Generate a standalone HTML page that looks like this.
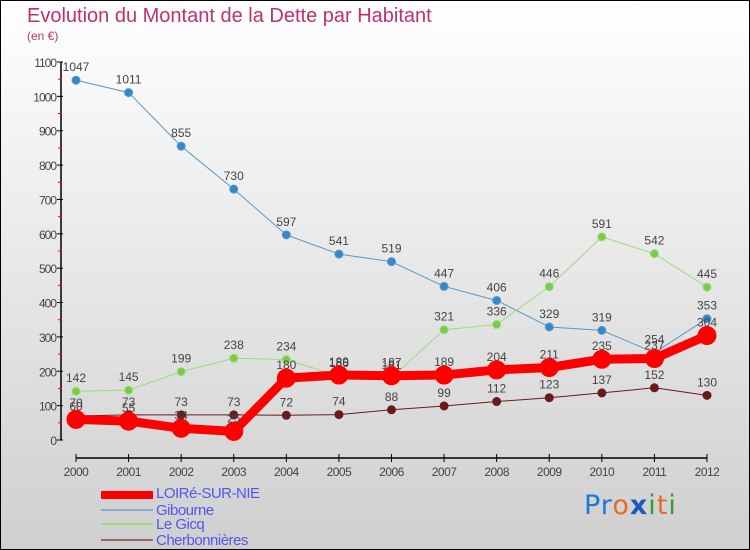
<!DOCTYPE html>
<html><head><meta charset="utf-8"><style>
body{margin:0;}
#wrap{position:relative;width:748px;height:548px;border:1px solid #000;background:linear-gradient(#ffffff,#cfcfcf);overflow:hidden;font-family:"Liberation Sans",sans-serif;}
.t{position:absolute;color:#c0306c;}
.lg{position:absolute;left:155px;color:#5555ee;font-size:15px;line-height:15px;letter-spacing:-0.5px}
.sw{position:absolute;left:100px;width:52px;}
</style></head><body>
<div id="wrap">
<div class="t" style="left:26px;top:4px;font-size:20px;">Evolution du Montant de la Dette par Habitant</div>
<div class="t" style="left:26px;top:28px;font-size:12px;">(en €)</div>
<svg id="svg" width="748" height="548" style="position:absolute;left:0;top:0"></svg>
<div class="sw" style="top:490px;height:8px;background:#f00"></div>
<div class="lg" style="top:485px">LOIRé-SUR-NIE</div>
<div class="sw" style="top:508px;height:2px;background:#88aacc"></div>
<div class="lg" style="top:502px">Gibourne</div>
<div class="sw" style="top:522px;height:2px;background:#99dd77"></div>
<div class="lg" style="top:516px">Le Gicq</div>
<div class="sw" style="top:538px;height:2px;background:#996666"></div>
<div class="lg" style="top:532px">Cherbonnières</div>
<div style="position:absolute;left:583px;top:489px;font-size:27px;font-family:'DejaVu Sans',sans-serif;letter-spacing:1px"><span style="color:#1a7ad0">Pr</span><span style="color:#e07020">o</span><span style="color:#1a5ac0;font-weight:bold">x</span><span style="color:#30a030">i</span><span style="color:#e07020">t</span><span style="color:#30a030">i</span></div>
</div>
<script>
const years=[2000,2001,2002,2003,2004,2005,2006,2007,2008,2009,2010,2011,2012];
const loire=[60,55,34,25,180,189,187,189,204,211,235,237,304];
const gibourne=[1047,1011,855,730,597,541,519,447,406,329,319,254,353];
const gicq=[142,145,199,238,234,186,181,321,336,446,591,542,445];
const cherb=[70,73,73,73,72,74,88,99,112,123,137,152,130];
const yTicks=[0,100,200,300,400,500,600,700,800,900,1000,1100];
const NS="http://www.w3.org/2000/svg";
const svg=document.getElementById('svg');
const x=i=>75+i*(706-75)/(years.length-1);
const y=v=>439-v*(378/1100);
function el(t,a,n){const e=document.createElementNS(NS,t);for(const k in a)e.setAttribute(k,a[k]);


svg.appendChild(e);return e;}
el('line',{x1:60,y1:y(1100),x2:60,y2:y(0),stroke:'#000','stroke-width':1.5},'y-axis');
yTicks.forEach(v=>{el('line',{x1:56,y1:y(v),x2:62,y2:y(v),stroke:'#000'},'y-tick');
const t=el('text',{x:55,y:y(v)+5,'text-anchor':'end','font-size':12,fill:'#444','letter-spacing':'-1'},'y-tick-label');t.textContent=v;
if(v<1100)el('line',{x1:57,y1:y(v+50),x2:61,y2:y(v+50),stroke:'#f00'},'y-minor-tick');});
el('line',{x1:75,y1:457,x2:706,y2:457,stroke:'#000','stroke-width':1.5},'x-axis');
years.forEach((yr,i)=>{el('line',{x1:x(i),y1:453,x2:x(i),y2:461,stroke:'#000'},'x-tick');
const t=el('text',{x:x(i),y:466+9,'text-anchor':'middle','font-size':12,fill:'#444','letter-spacing':'-0.5'},'x-tick-label');t.textContent=yr;});
function series(d,col,w,r,fill,name){
el('polyline',{points:d.map((v,i)=>x(i)+','+y(v)).join(' '),fill:'none',stroke:col,'stroke-width':w,'stroke-linejoin':'round'},name+'-line');
d.forEach((v,i)=>{el('circle',{cx:x(i),cy:y(v),r:r,fill:fill,stroke:col,'stroke-width':1},name+'-point');
const t=el('text',{x:x(i),y:y(v)-9,'text-anchor':'middle','font-size':12,fill:'#444'},name+'-value-label');t.textContent=v;});}
series(cherb,'#6b1a1a',1,4,'#6b1a1a','cherbonnieres');
series(gibourne,'#5599cc',1,4,'#3388cc','gibourne');
series(gicq,'#99dd77',1,4,'#77cc44','gicq');
series(loire,'#f00',9,9,'#f00','loire');
</script>
</body></html>
